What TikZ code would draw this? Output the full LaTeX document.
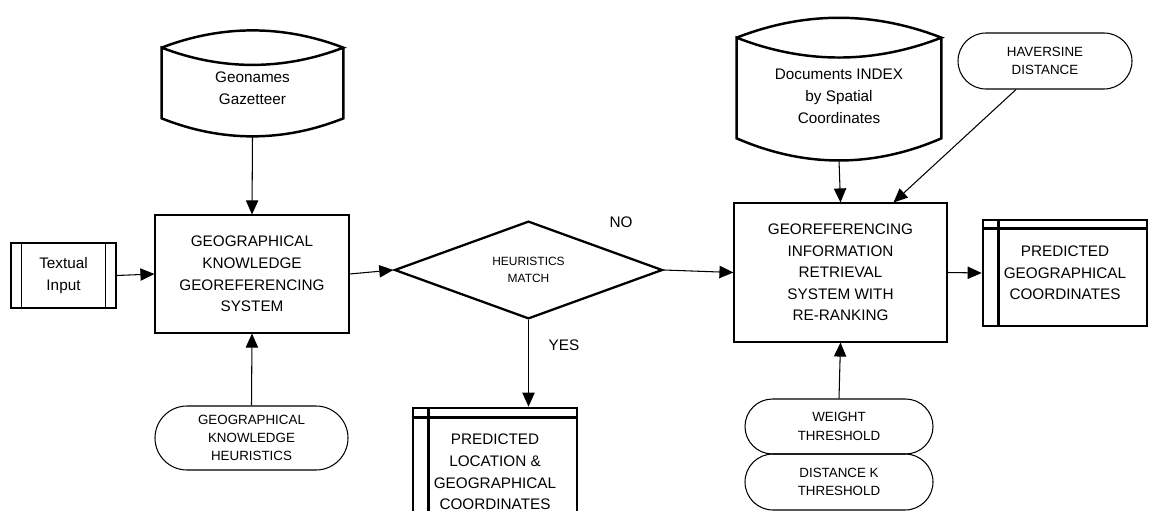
\documentclass[tikz,border=0pt]{standalone}
\usepackage{fontspec}
\setmainfont{Liberation Sans}
\usetikzlibrary{arrows.meta,shapes.geometric,shapes.misc,calc}

\begin{document}
\begin{tikzpicture}[
    process/.style={rectangle, draw=black, line width=0.6pt, align=center, inner sep=0pt, font=\fontsize{8.7}{12.3}\selectfont},
    dbstore/.style={rectangle, inner sep=0pt, align=center, font=\fontsize{8.7}{12.4}\selectfont},
    terminal/.style={rounded rectangle, draw=black, line width=0.6pt, align=center, inner sep=0pt, font=\fontsize{7.6}{10.4}\selectfont},
    decision/.style={diamond, draw=black, line width=1.3pt, align=center, inner sep=0pt, font=\fontsize{6.8}{9.6}\selectfont},
    outbox/.style={rectangle, draw=black, line width=1.5pt, align=center, inner sep=0pt, font=\fontsize{8.7}{12.3}\selectfont},
    dbline/.style={line width=1.4pt},
    innerline/.style={line width=0.6pt},
    lbl/.style={font=\fontsize{8.7}{12}\selectfont},
    arrow/.style={-{Triangle[length=8pt,width=7pt]}, line width=0.6pt}
]
\useasboundingbox (0,0) rectangle (22.98,-10.22);
\clip (0,0) rectangle (22.98,-10.22);

% Left part
\node[dbstore, minimum width=3.62cm, minimum height=1.90cm] (gaz) at (5.05,-1.77) {Geonames\\Gazetteer};
\node[process, minimum width=3.88cm, minimum height=2.36cm] (gkgs) at (5.04,-5.48) {GEOGRAPHICAL\\KNOWLEDGE\\GEOREFERENCING\\SYSTEM};
\node[process, minimum width=2.10cm, minimum height=1.30cm] (textin) at (1.27,-5.51) {Textual\\Input};
\node[terminal, minimum width=3.86cm, minimum height=1.28cm] (heur) at (5.03,-8.76) {GEOGRAPHICAL\\KNOWLEDGE\\HEURISTICS};

% Decision
\node[decision, minimum width=5.36cm, minimum height=1.88cm] (match) at (10.57,-5.40) {HEURISTICS\\MATCH};
\node[outbox, minimum width=3.28cm, minimum height=2.56cm] (predloc) at (9.90,-9.44) {PREDICTED\\LOCATION \&\\GEOGRAPHICAL\\COORDINATES};
\node[lbl] (nolbl) at (12.42,-4.44) {NO};
\node[lbl] (yeslbl) at (11.28,-6.90) {YES};

% Right part
\node[dbstore, minimum width=4.08cm, minimum height=2.54cm] (docs) at (16.78,-1.93) {Documents INDEX\\by Spatial\\Coordinates};
\node[terminal, minimum width=3.48cm, minimum height=1.12cm] (hav) at (20.90,-1.22) {HAVERSINE\\DISTANCE};
\node[process, minimum width=4.26cm, minimum height=2.78cm] (girs) at (16.81,-5.45) {GEOREFERENCING\\INFORMATION\\RETRIEVAL\\SYSTEM WITH\\RE-RANKING};
\node[outbox, minimum width=3.28cm, minimum height=2.12cm] (predgeo) at (21.30,-5.46) {PREDICTED\\GEOGRAPHICAL\\COORDINATES};
\node[terminal, minimum width=3.76cm, minimum height=1.10cm] (weight) at (16.78,-8.53) {WEIGHT\\THRESHOLD};
\node[terminal, minimum width=3.76cm, minimum height=1.12cm] (distk) at (16.78,-9.64) {DISTANCE K\\THRESHOLD};

% Storage shapes
\draw[dbline] ($(gaz.north west)+(0,-0.14)$) .. controls +(1.2,0.46) and +(-1.2,0.46) .. ($(gaz.north east)+(0,-0.14)$)
    .. controls +(-1.2,-0.46) and +(1.2,-0.46) .. ($(gaz.north west)+(0,-0.14)$)
    -- ($(gaz.south west)+(0,0.36)$) .. controls +(1.2,-0.48) and +(-1.2,-0.48) .. ($(gaz.south east)+(0,0.36)$)
    -- ($(gaz.north east)+(0,-0.14)$);
\draw[dbline] ($(docs.north west)+(0,-0.10)$) .. controls +(1.36,0.53) and +(-1.36,0.53) .. ($(docs.north east)+(0,-0.10)$)
    .. controls +(-1.36,-0.53) and +(1.36,-0.53) .. ($(docs.north west)+(0,-0.10)$)
    -- ($(docs.south west)+(0,0.44)$) .. controls +(1.36,-0.59) and +(-1.36,-0.59) .. ($(docs.south east)+(0,0.44)$)
    -- ($(docs.north east)+(0,-0.10)$);

% Inner lines
\draw[innerline] ($(textin.north west)+(0.22,0)$) -- ($(textin.south west)+(0.22,0)$);
\draw[innerline] ($(textin.north east)+(-0.22,0)$) -- ($(textin.south east)+(-0.22,0)$);
\draw[line width=1.5pt] ($(predloc.north west)+(0,-0.22)$) -- ($(predloc.north east)+(0,-0.22)$);
\draw[line width=1.5pt] ($(predloc.north west)+(0.34,0)$) -- ($(predloc.south west)+(0.34,0)$);
\draw[line width=1.5pt] ($(predgeo.north west)+(0,-0.20)$) -- ($(predgeo.north east)+(0,-0.20)$);
\draw[line width=1.5pt] ($(predgeo.north west)+(0.34,0)$) -- ($(predgeo.south west)+(0.34,0)$);

% Connectors
\draw[arrow] (gaz.south) -- (gkgs.north);
\draw[arrow] (heur.north) -- (gkgs.south);
\draw[arrow] (textin.east) -- (gkgs.west);
\draw[arrow] (gkgs.east) -- (match.west);
\draw[arrow] (match.east) -- (girs.west);
\draw[arrow] (match.south) -- (match.south |- predloc.north);
\draw[arrow] (docs.south) -- (girs.north);
\draw[arrow] ($(hav.south)+(-0.58,0)$) -- ($(girs.north)+(1.06,0)$);
\draw[arrow] (girs.east) -- (predgeo.west);
\draw[arrow] (weight.north) -- (girs.south);

\end{tikzpicture}
\end{document}
